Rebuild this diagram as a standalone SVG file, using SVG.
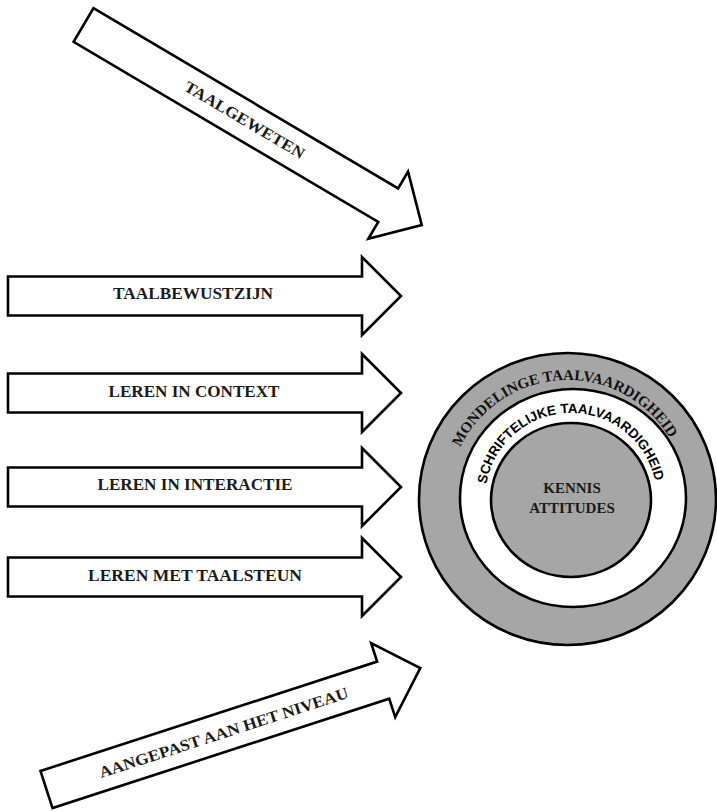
<svg xmlns="http://www.w3.org/2000/svg" xmlns:xlink="http://www.w3.org/1999/xlink" width="717" height="812" viewBox="0 0 717 812">
<style>
.arrow{fill:#fff;stroke:#000;stroke-width:2.6;stroke-linejoin:miter}
.lbl{font-family:"Liberation Serif","Times New Roman",serif;font-weight:bold;font-size:16px;fill:#1a1a1a;text-anchor:middle}
.ring{stroke:#000;stroke-width:2.6}
.mond{font-family:"Liberation Serif","Times New Roman",serif;font-weight:bold;font-size:15px;fill:#111}
.schr{font-family:"Liberation Sans",Arial,sans-serif;font-weight:bold;font-size:13.5px;fill:#000}
</style>
<defs>
<path id="arr" class="arrow" d="M0,-19.5 H354 V-39 L393,0 L354,39 V19.5 H0 Z"/>
<path id="arcOuter" d="M457.6,544.5 A119,119 0 1 1 681,534.8"/>
<path id="arcInner" d="M486.9,516.9 A86,86 0 1 1 655.7,513.9"/>
</defs>
<g id="taalgeweten" transform="translate(83.5,25) rotate(30.6)">
<use xlink:href="#arr"/>
<text class="lbl" x="187" y="5" textLength="137" lengthAdjust="spacingAndGlyphs">TAALGEWETEN</text>
</g>
<g id="taalbewustzijn" transform="translate(8,296)">
<use xlink:href="#arr"/>
<text class="lbl" x="185" y="3" textLength="160" lengthAdjust="spacingAndGlyphs">TAALBEWUSTZIJN</text>
</g>
<g id="leren-in-context" transform="translate(8,393)">
<use xlink:href="#arr"/>
<text class="lbl" x="186" y="4" textLength="171" lengthAdjust="spacingAndGlyphs">LEREN IN CONTEXT</text>
</g>
<g id="leren-in-interactie" transform="translate(8,487)">
<use xlink:href="#arr"/>
<text class="lbl" x="187" y="3" textLength="195" lengthAdjust="spacingAndGlyphs">LEREN IN INTERACTIE</text>
</g>
<g id="leren-met-taalsteun" transform="translate(8,577)">
<use xlink:href="#arr"/>
<text class="lbl" x="187" y="4" textLength="214" lengthAdjust="spacingAndGlyphs">LEREN MET TAALSTEUN</text>
</g>
<g id="aangepast" transform="translate(46.5,789.5) rotate(-18)">
<use xlink:href="#arr"/>
<text class="lbl" x="186" y="6" textLength="261" lengthAdjust="spacingAndGlyphs">AANGEPAST AAN HET NIVEAU</text>
</g>
<g id="mondelinge">
<ellipse class="ring" cx="567.5" cy="499" rx="148.5" ry="146" fill="#a6a6a6"/>
<text class="mond"><textPath xlink:href="#arcOuter" startOffset="50%" text-anchor="middle">MONDELINGE TAALVAARDIGHEID</textPath></text>
</g>
<g id="schriftelijke">
<ellipse class="ring" cx="573" cy="498" rx="113" ry="109" fill="#fff"/>
<text class="schr"><textPath xlink:href="#arcInner" startOffset="50%" text-anchor="middle">SCHRIFTELIJKE TAALVAARDIGHEID</textPath></text>
</g>
<g id="kennis">
<ellipse class="ring" cx="571" cy="500" rx="80" ry="77" fill="#a6a6a6"/>
<text class="lbl" style="font-size:15px" x="572" y="493">KENNIS</text>
<text class="lbl" style="font-size:15px" x="572" y="513">ATTITUDES</text>
</g>
<g id="connectors"/>
</svg>
